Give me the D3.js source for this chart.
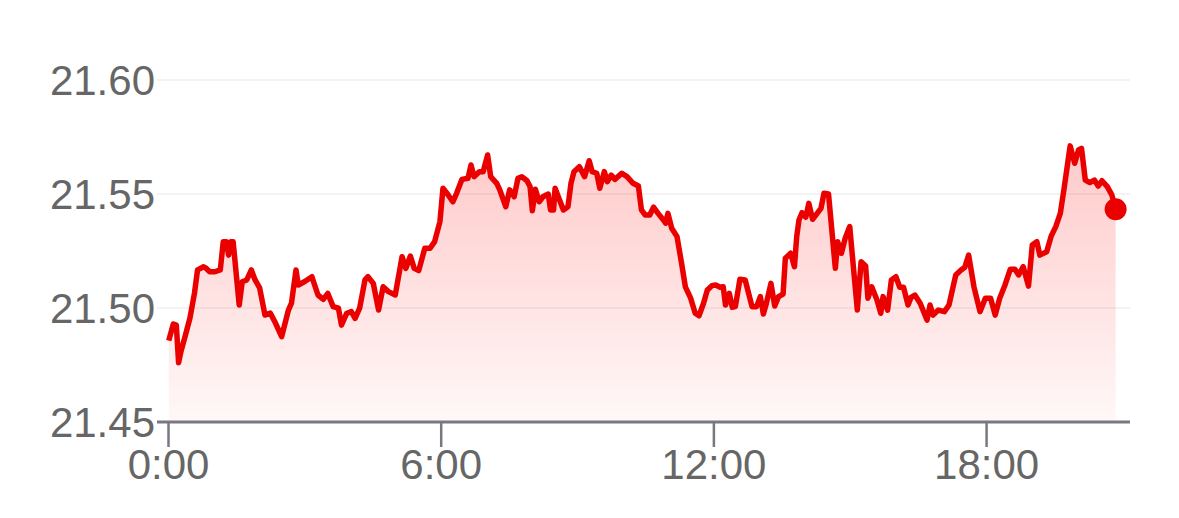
<!DOCTYPE html>
<meta charset="utf-8">
<style>
  body { margin: 0; background: #fff; }
  svg { display: block; }
</style>
<svg></svg>
<script src="https://d3js.org/d3.v7.min.js"></script>
<script>
var width = 1179,
    height = 518;

// minutes since 0:00
var minutes = [1, 7, 11, 14, 17, 22, 29, 35, 39, 47, 50, 55, 62, 69, 73, 77, 80, 83, 86, 94,
  98, 104, 110, 115, 121, 128, 135, 141, 150, 159, 163, 169, 172, 180, 190, 198, 205, 211, 218, 225,
  229, 236, 242, 247, 253, 260, 264, 271, 278, 284, 291, 300, 309, 314, 320, 325, 331, 339, 346, 352,
  359, 363, 369, 376, 381, 388, 396, 400, 404, 411, 416, 422, 426, 434, 438, 446, 451, 457, 462, 467,
  474, 478, 481, 485, 490, 495, 502, 505, 509, 511, 516, 522, 528, 532, 536, 543, 550, 556, 560, 566,
  570, 576, 580, 585, 590, 599, 606, 614, 621, 625, 630, 636, 641, 647, 654, 657, 660, 665, 672, 678,
  683, 690, 696, 701, 707, 712, 718, 723, 729, 733, 736, 741, 745, 749, 755, 762, 771, 777, 782, 786,
  790, 796, 801, 806, 812, 815, 822, 827, 830, 833, 837, 842, 846, 851, 857, 862, 866, 872, 881, 884,
  889, 894, 900, 910, 915, 921, 924, 929, 936, 941, 944, 950, 955, 961, 966, 971, 977, 981, 986, 993,
  1002, 1006, 1010, 1017, 1025, 1031, 1040, 1047, 1052, 1057, 1064, 1072, 1079, 1086, 1092, 1098, 1105, 1112, 1118, 1123,
  1129, 1136, 1141, 1147, 1151, 1160, 1166, 1172, 1178, 1183, 1191, 1197, 1202, 1206, 1211, 1217, 1223, 1228, 1233, 1240,
  1246, 1251];

var prices = [21.4857, 21.4930, 21.4925, 21.4760, 21.4808, 21.4868, 21.4956, 21.5066, 21.5167, 21.5181,
  21.5175, 21.5159, 21.5159, 21.5167, 21.5291, 21.5291, 21.5232, 21.5291, 21.5291, 21.5013,
  21.5115, 21.5123, 21.5167, 21.5123, 21.5088, 21.4969, 21.4978, 21.4940, 21.4874, 21.4991,
  21.5021, 21.5167, 21.5101, 21.5115, 21.5137, 21.5057, 21.5038, 21.5064, 21.5006, 21.4999,
  21.4925, 21.4977, 21.4984, 21.4955, 21.4999, 21.5123, 21.5137, 21.5108, 21.4991, 21.5093,
  21.5072, 21.5057, 21.5225, 21.5174, 21.5228, 21.5174, 21.5164, 21.5262, 21.5262, 21.5291,
  21.5379, 21.5525, 21.5500, 21.5466, 21.5503, 21.5564, 21.5569, 21.5627, 21.5576, 21.5598,
  21.5598, 21.5671, 21.5576, 21.5547, 21.5518, 21.5444, 21.5518, 21.5488, 21.5569, 21.5576,
  21.5558, 21.5532, 21.5427, 21.5521, 21.5466, 21.5488, 21.5500, 21.5430, 21.5430, 21.5525,
  21.5481, 21.5430, 21.5444, 21.5547, 21.5598, 21.5620, 21.5576, 21.5646, 21.5598, 21.5591,
  21.5525, 21.5598, 21.5554, 21.5583, 21.5564, 21.5591, 21.5576, 21.5547, 21.5535, 21.5430,
  21.5408, 21.5408, 21.5442, 21.5415, 21.5386, 21.5372, 21.5415, 21.5350, 21.5313, 21.5196,
  21.5093, 21.5043, 21.4977, 21.4966, 21.5021, 21.5079, 21.5098, 21.5101, 21.5091, 21.5093,
  21.5013, 21.5064, 21.5003, 21.5006, 21.5126, 21.5123, 21.5006, 21.5006, 21.5050, 21.4974,
  21.5021, 21.5108, 21.5009, 21.5050, 21.5061, 21.5218, 21.5240, 21.5181, 21.5313, 21.5386,
  21.5418, 21.5398, 21.5459, 21.5389, 21.5415, 21.5437, 21.5503, 21.5500, 21.5174, 21.5291,
  21.5240, 21.5306, 21.5357, 21.4991, 21.5203, 21.5184, 21.5043, 21.5093, 21.5035, 21.4977,
  21.5050, 21.4991, 21.5123, 21.5137, 21.5091, 21.5091, 21.5013, 21.5047, 21.5057, 21.5021,
  21.4947, 21.5013, 21.4969, 21.4991, 21.4984, 21.5013, 21.5145, 21.5167, 21.5179, 21.5232,
  21.5093, 21.4984, 21.5043, 21.5043, 21.4969, 21.5043, 21.5101, 21.5170, 21.5170, 21.5145,
  21.5181, 21.5096, 21.5276, 21.5291, 21.5232, 21.5247, 21.5316, 21.5357, 21.5415, 21.5525,
  21.5711, 21.5635, 21.5693, 21.5700, 21.5561, 21.5550, 21.5561, 21.5535, 21.5558, 21.5532,
  21.5496, 21.5433];

var yTicks = [21.45, 21.50, 21.55, 21.60];
var xTicks = [0, 360, 720, 1080];

var data = minutes.map(function(m, i) { return { t: m, v: prices[i] }; });

var svg = d3.select("svg")
    .attr("width", width)
    .attr("height", height);

var x = d3.scaleLinear()
    .domain([0, 1270])
    .range([168, 1130]);

var y = d3.scaleLinear()
    .domain([21.45, 21.60])
    .range([422, 80]);

var defs = svg.append("defs");
var grad = defs.append("linearGradient")
    .attr("id", "fill")
    .attr("gradientUnits", "userSpaceOnUse")
    .attr("x1", 0).attr("x2", 0)
    .attr("y1", y(21.57)).attr("y2", y(21.45));
grad.append("stop").attr("offset", 0).attr("stop-color", "#ff0000").attr("stop-opacity", 0.21);
grad.append("stop").attr("offset", 1).attr("stop-color", "#ff0000").attr("stop-opacity", 0.03);

// grid
svg.append("g")
  .selectAll("line")
  .data(yTicks.slice(1))
  .enter().append("line")
    .attr("x1", 157)
    .attr("x2", 1130)
    .attr("y1", function(d) { return y(d); })
    .attr("y2", function(d) { return y(d); })
    .attr("stroke", "#f3f3f3")
    .attr("stroke-width", 2);

// area + line
svg.append("path")
    .datum(data)
    .attr("fill", "url(#fill)")
    .attr("d", d3.area()
      .x(function(d) { return x(d.t); })
      .y0(y(21.45))
      .y1(function(d) { return y(d.v); }));

svg.append("path")
    .datum(data)
    .attr("fill", "none")
    .attr("stroke", "#eb0000")
    .attr("stroke-width", 5.5)
    .attr("stroke-linejoin", "round")
    .attr("d", d3.line()
      .x(function(d) { return x(d.t); })
      .y(function(d) { return y(d.v); }));

var last = data[data.length - 1];
svg.append("circle")
    .attr("cx", x(last.t))
    .attr("cy", y(last.v))
    .attr("r", 11)
    .attr("fill", "#eb0000");

// x axis
var xAxis = svg.append("g")
    .attr("transform", "translate(0," + y(21.45) + ")")
    .call(d3.axisBottom(x)
      .tickValues(xTicks)
      .tickSize(25)
      .tickPadding(2)
      .tickSizeOuter(0)
      .tickFormat(function(d) { return (d / 60) + ":00"; }));

xAxis.select(".domain")
    .attr("d", "M157,0H1130")
    .attr("stroke", "#787880")
    .attr("stroke-width", 3);
xAxis.selectAll(".tick line")
    .attr("stroke", "#787880")
    .attr("stroke-width", 2.5);
xAxis.selectAll(".tick text")
    .attr("fill", "#666")
    .attr("font-family", "Liberation Sans, Arial, sans-serif")
    .attr("font-size", 42);

// y labels
svg.append("g")
  .selectAll("text")
  .data(yTicks)
  .enter().append("text")
    .attr("x", 155)
    .attr("y", function(d) { return y(d); })
    .attr("dy", "0.35em")
    .attr("text-anchor", "end")
    .attr("fill", "#666")
    .attr("font-family", "Liberation Sans, Arial, sans-serif")
    .attr("font-size", 42)
    .text(function(d) { return d.toFixed(2); });
</script>
